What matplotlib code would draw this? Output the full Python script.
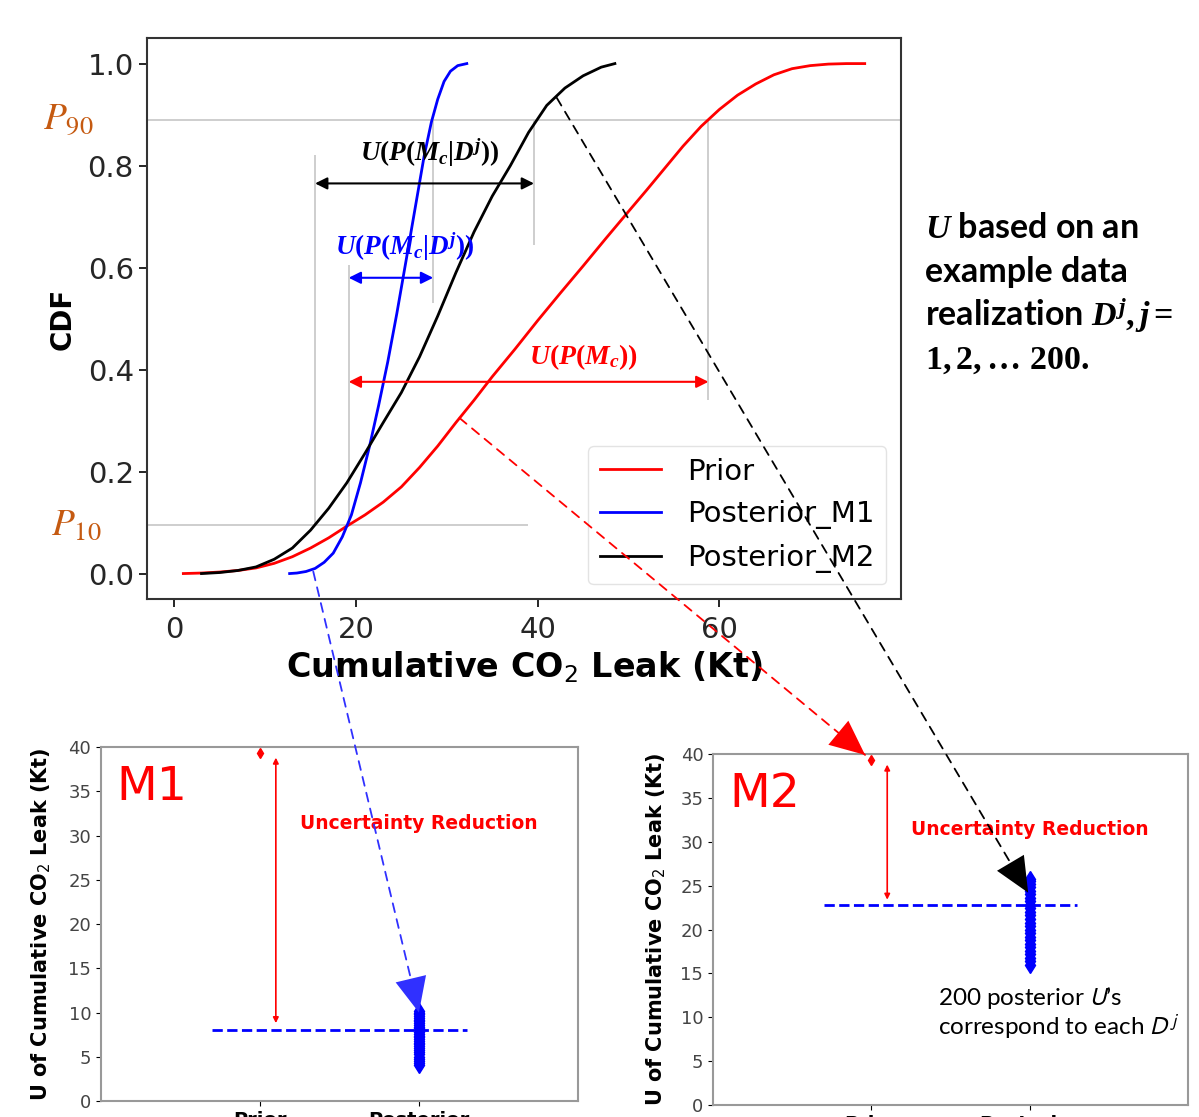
import matplotlib.pyplot as plt
from matplotlib.patches import ConnectionPatch

plt.rcParams['mathtext.fontset'] = 'custom'
plt.rcParams['mathtext.it'] = 'Liberation Serif:italic:bold'
plt.rcParams['mathtext.rm'] = 'Liberation Serif:bold'
plt.rcParams['mathtext.bf'] = 'Liberation Serif:bold'

# CDF curves (cumulative CO2 leak, Kt)
prior_x = [1, 3, 5, 7, 9, 11, 13, 15, 17, 19, 21, 23, 25, 27, 29, 31, 33, 35, 37.5,
           40, 42.5, 45, 47.5, 50, 52, 54, 56, 58, 60, 62, 64, 66, 68, 70, 72, 74, 76]
prior_cdf = [0, 0.001, 0.003, 0.006, 0.011, 0.02, 0.033, 0.05, 0.07, 0.093, 0.115,
             0.14, 0.17, 0.208, 0.25, 0.296, 0.34, 0.386, 0.44, 0.496, 0.55, 0.603,
             0.657, 0.71, 0.752, 0.795, 0.838, 0.877, 0.91, 0.938, 0.96, 0.978, 0.99,
             0.996, 0.999, 1.0, 1.0]
m1_x = [12.7, 13.5, 14.5, 15.5, 16.5, 17.5, 18.5, 19.5, 20.5, 21.5, 22.5, 23.5, 24.5,
        25.5, 26.5, 27.5, 28.3, 29, 29.7, 30.4, 31.2, 32.2]
m1_cdf = [0, 0.001, 0.004, 0.01, 0.022, 0.04, 0.072, 0.115, 0.178, 0.25, 0.33, 0.415,
          0.51, 0.612, 0.715, 0.818, 0.885, 0.93, 0.965, 0.985, 0.996, 1.0]
m2_x = [3, 5, 7, 9, 11, 13, 15, 17, 19, 21, 23, 25, 27, 29, 31, 33, 35, 37, 39, 41,
        43, 45, 47, 48.5]
m2_cdf = [0, 0.002, 0.006, 0.013, 0.028, 0.05, 0.085, 0.128, 0.178, 0.236, 0.296,
          0.355, 0.425, 0.505, 0.59, 0.67, 0.74, 0.8, 0.865, 0.918, 0.952, 0.976,
          0.993, 1.0]

# percentile levels and values
p10_level, p90_level = 0.095, 0.89
prior_p10, prior_p90 = 19.2, 58.8
m1_p10, m1_p90 = 19.2, 28.5
m2_p10, m2_p90 = 15.5, 39.6

# uncertainty U (P90 - P10) for the lower panels
prior_u = 39.3
m1_post_u = [4.1, 4.3, 4.5, 4.8, 5.0, 5.3, 5.5, 5.8, 6.0, 6.2, 6.4, 6.6, 6.8, 7.0,
             7.2, 7.4, 7.6, 7.8, 8.0, 8.2, 8.4, 8.6, 8.8, 9.0, 9.2, 9.4, 9.6, 9.8,
             10.0, 10.2]
m1_mean = 8.0
m2_post_u = [16.0, 16.4, 16.8, 17.2, 17.6, 18.0, 18.4, 18.8, 19.2, 19.6, 20.0, 20.4,
             20.8, 21.2, 21.6, 22.0, 22.4, 22.8, 23.2, 23.6, 24.0, 24.4, 24.8, 25.2,
             25.5, 25.8]
m2_mean = 22.8
categories = ['Prior', 'Posterior']

fig = plt.figure(figsize=(11.99, 11.17), dpi=100)

# ---- top CDF plot ----
ax = fig.add_axes([0.1226, 0.4637, 0.6289, 0.5022])
grey = '#c6c6c6'
ax.axhline(p90_level, color=grey, lw=1.2, zorder=1)
ax.hlines(p10_level, -3, 38.9, color=grey, lw=1.2, zorder=1)
ax.vlines(m2_p10, p10_level, 0.82, color=grey, lw=1.2, zorder=1)
ax.vlines(prior_p10, p10_level, 0.605, color=grey, lw=1.2, zorder=1)
ax.vlines(m1_p90, 0.53, p90_level, color=grey, lw=1.2, zorder=1)
ax.vlines(m2_p90, 0.644, p90_level, color=grey, lw=1.2, zorder=1)
ax.vlines(prior_p90, 0.34, p90_level, color=grey, lw=1.2, zorder=1)

ax.plot(prior_x, prior_cdf, color='red', lw=2, label='Prior')
ax.plot(m1_x, m1_cdf, color='blue', lw=2, label='Posterior_M1')
ax.plot(m2_x, m2_cdf, color='black', lw=2, label='Posterior_M2')


def span(y, x0, x1, color):
    ax.annotate('', xy=(x0, y), xytext=(x1, y),
                arrowprops=dict(arrowstyle='<|-|>', color=color, lw=1.5,
                                mutation_scale=18, shrinkA=0, shrinkB=0))


span(0.765, m2_p10, m2_p90, 'black')
span(0.58, m1_p10, m1_p90, 'blue')
span(0.376, prior_p10, prior_p90, 'red')
ax.text(28.1, 0.825, r'$U(P(M_c|D^j))$', color='black', fontsize=19.5, ha='center', va='center')
ax.text(25.4, 0.64, r'$U(P(M_c|D^j))$', color='blue', fontsize=19.5, ha='center', va='center')
ax.text(45, 0.425, r'$U(P(M_c))$', color='red', fontsize=20, ha='center', va='center')

ax.set_xlim(-3, 80)
ax.set_ylim(-0.05, 1.05)
ax.set_xticks([0, 20, 40, 60])
ax.set_yticks([0, 0.2, 0.4, 0.6, 0.8, 1.0])
ax.tick_params(labelsize=21, length=6, width=1.2, labelcolor='#262626')
ax.tick_params(axis='x', pad=6)
for s in ax.spines.values():
    s.set_color('#333333')
    s.set_linewidth(1.5)
ax.set_xlabel(r'Cumulative CO$_2$ Leak (Kt)', fontsize=24, fontweight='bold',
              math_fontfamily='dejavusans', labelpad=4)
ax.set_ylabel('CDF', fontsize=20, fontweight='bold', labelpad=8)
ax.legend(loc='lower right', fontsize=21, handlelength=2.1, handletextpad=0.9,
          edgecolor='#dddddd')

fig.text(68 / 1199, 1 - 120 / 1117, r'$P_{90}$', math_fontfamily='stix',
         color='#C55A11', fontsize=27, ha='center', va='center')
fig.text(76 / 1199, 1 - 525 / 1117, r'$P_{10}$', math_fontfamily='stix',
         color='#C55A11', fontsize=27, ha='center', va='center')

lines = ['$U$ based on an', 'example data', 'realization $D^j, j =$', r'$1, 2, \ldots\ 200.$']
for i, t in enumerate(lines):
    fig.text(0.7715, 0.796 - i * 0.0394, t, fontsize=24.5, fontweight='bold',
             family='Lato', va='center', ha='left')


# ---- lower panels ----
def panel(rect, post_u, post_mean, arrow_bottom, name, ylab_x):
    axp = fig.add_axes(rect)
    axp.plot([0], [prior_u], 'd', color='red', ms=5)
    axp.plot([1] * len(post_u), post_u, 'd', color='blue', ms=8)
    axp.hlines(post_mean, -0.3, 1.3, colors='blue', linestyles='--', lw=2)
    axp.annotate('', xy=(0.1, arrow_bottom), xytext=(0.1, 38.8),
                 arrowprops=dict(arrowstyle='<|-|>', color='red', lw=1.2,
                                 mutation_scale=8, shrinkA=0, shrinkB=0))
    axp.text(1.0, 31.4, 'Uncertainty Reduction', color='red', fontsize=13.5,
             fontweight='bold', ha='center', va='center')
    axp.text(-0.9, 35.4, name, color='red', fontsize=34, ha='left', va='center')
    axp.set_xlim(-1, 2)
    axp.set_ylim(0, 40)
    axp.set_xticks([0, 1])
    axp.set_xticklabels(categories, fontsize=14, fontweight='bold')
    axp.set_yticks(range(0, 41, 5))
    axp.tick_params(axis='y', labelsize=13, labelcolor='#444444')
    for s in axp.spines.values():
        s.set_color('#999999')
        s.set_linewidth(1.5)
    axp.set_ylabel(r'U of Cumulative CO$_2$ Leak (Kt)', fontsize=15, fontweight='bold',
                   math_fontfamily='dejavusans')
    axp.yaxis.set_label_coords(ylab_x, 0.5)
    return axp


ax1 = panel([0.0842, 0.01432, 0.3978, 0.3169], m1_post_u, m1_mean, 8.8, 'M1', -0.10)
ax2 = panel([0.5947, 0.01074, 0.3962, 0.3142], m2_post_u, m2_mean, 23.4, 'M2', -0.094)

ax2.text(0.42, 12.2, "200 posterior $U$\u2019s", fontsize=17.5, family='Lato',
         math_fontfamily='stixsans', va='center')
ax2.text(0.42, 8.9, 'correspond to each $D^j$', fontsize=17.5, family='Lato',
         math_fontfamily='stixsans', va='center')

# connecting arrows from CDF curves to the U panels
links = [((15.3, 0.004), ax1, (1.0, 10.0), '#3030ff'),
         ((31.4, 0.305), ax2, (-0.04, 39.9), 'red'),
         ((42.1, 0.933), ax2, (0.99, 24.2), 'black')]
for xyA, axB, xyB, c in links:
    line = ConnectionPatch(xyA=xyA, coordsA=ax.transData, xyB=xyB, coordsB=axB.transData,
                           arrowstyle='-', color=c, lw=1.3, linestyle=(0, (5, 4)))
    fig.add_artist(line)
    head = ConnectionPatch(xyA=xyA, coordsA=ax.transData, xyB=xyB, coordsB=axB.transData,
                           arrowstyle='-|>,head_length=1.0,head_width=0.45',
                           mutation_scale=25, color=c, lw=0)
    fig.add_artist(head)

fig.savefig('out.png', dpi=100)
